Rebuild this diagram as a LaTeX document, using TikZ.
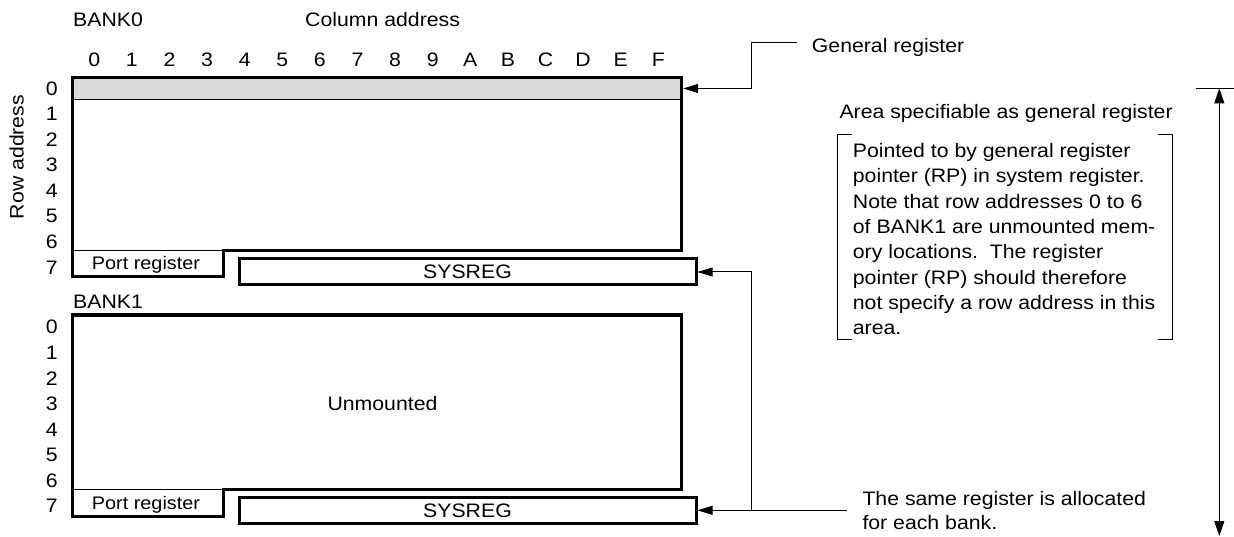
\documentclass[tikz,border=0pt]{standalone}
\usepackage{fontspec}
\setmainfont[FakeStretch=1.09]{Liberation Sans}
\usetikzlibrary{arrows.meta}

\begin{document}
\begin{tikzpicture}[x=1pt,y=-1pt,font=\fontsize{19.5pt}{25.3pt}\selectfont]
\tikzstyle{colnum} = [inner sep=0pt,node distance=37.6pt]
\tikzstyle{rownum} = [inner sep=0pt,node distance=25.6pt]
\tikzstyle{outline} = [line width=3pt,line join=miter]
\tikzstyle{sysreg} = [draw,line width=3pt,minimum width=457pt,minimum height=26pt,inner sep=0pt]
\tikzstyle{band} = [draw,line width=1pt,fill=black!15,minimum width=609.2pt,minimum height=21.6pt,inner sep=0pt,outer sep=1.5pt]
\tikzstyle{lead} = [line width=1pt]
\tikzstyle{pointer} = [lead,-{Triangle[length=15pt,width=9pt]}]
\tikzstyle{portlabel} = [font=\fontsize{18.2pt}{22pt}\selectfont,anchor=base,inner sep=0pt]
\tikzstyle{plain} = [inner sep=0pt]

\useasboundingbox (0,0) rectangle (1234,537);

\node[plain,anchor=west] (bank0) at (73,20) {BANK0};
\node[plain,anchor=west] (coladdr) at (305,20) {Column address};
\node[plain,rotate=90] (rowaddr) at (16.7,157) {Row address};

\node[colnum] (c0) at (94.3,60) {0};
\node[colnum,right of=c0] (c1) {1};
\node[colnum,right of=c1] (c2) {2};
\node[colnum,right of=c2] (c3) {3};
\node[colnum,right of=c3] (c4) {4};
\node[colnum,right of=c4] (c5) {5};
\node[colnum,right of=c5] (c6) {6};
\node[colnum,right of=c6] (c7) {7};
\node[colnum,right of=c7] (c8) {8};
\node[colnum,right of=c8] (c9) {9};
\node[colnum,right of=c9] (cA) {A};
\node[colnum,right of=cA] (cB) {B};
\node[colnum,right of=cB] (cC) {C};
\node[colnum,right of=cC] (cD) {D};
\node[colnum,right of=cD] (cE) {E};
\node[colnum,right of=cE] (cF) {F};

\node[rownum] (r00) at (51.7,88.3) {0};
\node[rownum,below of=r00] (r01) {1};
\node[rownum,below of=r01] (r02) {2};
\node[rownum,below of=r02] (r03) {3};
\node[rownum,below of=r03] (r04) {4};
\node[rownum,below of=r04] (r05) {5};
\node[rownum,below of=r05] (r06) {6};
\node[rownum,below of=r06] (r07) {7};

\node[band] (band0) at (377.1,88.5) {};
\draw[outline] (72.5,77.7) -- (681.7,77.7) -- (681.7,250.7) -- (223.3,250.7) -- (223.3,276.7) -- (72.5,276.7) -- cycle;
\draw[lead] (72.5,250.7) -- (223.3,250.7);
\node[portlabel] (port0) at (146,270) {Port register};
\node[sysreg] (sys0) at (467.5,272) {SYSREG};

\node[plain,anchor=west] (bank1) at (73,301.7) {BANK1};

\node[rownum] (r10) at (51.7,327) {0};
\node[rownum,below of=r10] (r11) {1};
\node[rownum,below of=r11] (r12) {2};
\node[rownum,below of=r12] (r13) {3};
\node[rownum,below of=r13] (r14) {4};
\node[rownum,below of=r14] (r15) {5};
\node[rownum,below of=r15] (r16) {6};
\node[rownum,below of=r16] (r17) {7};

\draw[outline] (72.5,315) -- (681.7,315) -- (681.7,489.3) -- (223.3,489.3) -- (223.3,516) -- (72.5,516) -- cycle;
\draw[lead] (72.5,489.3) -- (223.3,489.3);
\node[plain] (unmounted) at (382.5,404) {Unmounted};
\node[portlabel] (port1) at (146,509.3) {Port register};
\node[sysreg] (sys1) at (467.5,510.3) {SYSREG};

\node[plain,anchor=base west] (genreg) at (811.7,52.5) {General register};
\coordinate (gstart) at (796.7,42.7);
\coordinate (gbend) at (751.7,42.7);
\draw[pointer] (gstart) -- (gbend) |- (band0.east);

\coordinate (sstart) at (847,510.3);
\coordinate (sbend) at (751.7,510.3);
\draw[pointer] (sstart) -- (sys1.east);
\draw[pointer] (sbend) |- (sys0.east);
\node[plain,anchor=north west,align=left,font=\fontsize{19.5pt}{23.4pt}\selectfont] (same) at (862.3,491.3) {The same register is allocated\\for each bank.};

\node[plain,anchor=base west] (area) at (839.3,118.3) {Area specifiable as general register};
\node[plain,anchor=north west,align=left] (note) at (852.7,143.3) {Pointed to by general register\\pointer (RP) in system register.\\Note that row addresses 0 to 6\\of BANK1 are unmounted mem-\\ory locations.\ \ The register\\pointer (RP) should therefore\\not specify a row address in this\\area.};
\draw[lead] (851.7,135) -- (837.3,135) -- (837.3,339) -- (851.7,339);
\draw[lead] (1158.3,135) -- (1172.7,135) -- (1172.7,339) -- (1158.3,339);

\coordinate (tickl) at (1196,88.3);
\coordinate (tickr) at (1234,88.3);
\coordinate (rtop) at (1219.3,88.3);
\coordinate (rbot) at (1219.3,536);
\draw[lead] (tickl) -- (tickr);
\draw[lead,{Triangle[length=15pt,width=10pt]}-{Triangle[length=15pt,width=10pt]}] (rtop) -- (rbot);

\end{tikzpicture}
\end{document}
